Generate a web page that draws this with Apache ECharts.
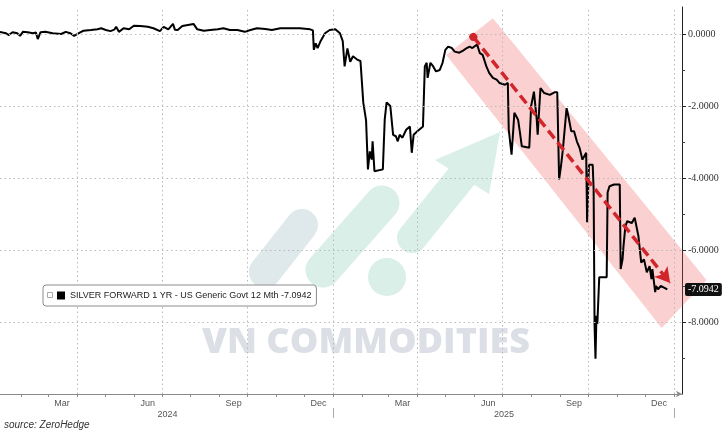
<!DOCTYPE html>
<html><head><meta charset="utf-8">
<script src="https://cdn.jsdelivr.net/npm/echarts@6/dist/echarts.min.js"></script>
<style>html,body{margin:0;padding:0;background:#fff}#c{width:728px;height:437px}</style>
</head><body><div id="c"></div>
<script>
const seriesName = 'SILVER FORWARD 1 YR - US Generic Govt 12 Mth -7.0942';
const lastValue = -7.0942;

const dates = [
'2024-01-09','2024-01-16','2024-01-19','2024-01-23','2024-01-28','2024-01-31','2024-02-03','2024-02-08','2024-02-14','2024-02-17',
'2024-02-19','2024-02-20','2024-02-22','2024-02-27','2024-03-06','2024-03-15','2024-03-20','2024-03-25','2024-03-29','2024-03-31',
'2024-04-05','2024-04-08','2024-04-16','2024-04-23','2024-04-27','2024-05-02','2024-05-07','2024-05-11','2024-05-13','2024-05-16',
'2024-05-21','2024-05-27','2024-06-01','2024-06-08','2024-06-16','2024-06-22','2024-06-29','2024-07-03','2024-07-08','2024-07-13',
'2024-07-15','2024-07-18','2024-07-23','2024-07-29','2024-08-04','2024-08-08','2024-08-15','2024-08-22','2024-08-30','2024-09-05',
'2024-09-12','2024-09-20','2024-09-28','2024-10-04','2024-10-11','2024-10-20','2024-10-27','2024-11-05','2024-11-15','2024-11-26',
'2024-12-07','2024-12-10','2024-12-11','2024-12-13','2024-12-15','2024-12-18','2024-12-20','2024-12-23','2024-12-28','2025-01-03',
'2025-01-08','2025-01-11','2025-01-13','2025-01-16','2025-01-19','2025-01-22','2025-01-24','2025-01-27','2025-01-30','2025-02-02',
'2025-02-05','2025-02-07','2025-02-09','2025-02-11','2025-02-12','2025-02-14','2025-02-23','2025-02-25','2025-02-27','2025-03-03',
'2025-03-06','2025-03-09','2025-03-11','2025-03-13','2025-03-16','2025-03-20','2025-03-24','2025-03-26','2025-03-28','2025-04-01',
'2025-04-07','2025-04-09','2025-04-11','2025-04-12','2025-04-15','2025-04-18','2025-04-21','2025-04-25','2025-04-28','2025-05-01',
'2025-05-04','2025-05-08','2025-05-11','2025-05-16','2025-05-20','2025-05-24','2025-05-27','2025-05-30','2025-06-04','2025-06-07',
'2025-06-10','2025-06-14','2025-06-17','2025-06-21','2025-06-25','2025-06-28','2025-07-04','2025-07-07','2025-07-08','2025-07-10',
'2025-07-11','2025-07-13','2025-07-14','2025-07-18','2025-07-20','2025-07-22','2025-07-30','2025-08-01','2025-08-04','2025-08-07',
'2025-08-08','2025-08-11','2025-08-15','2025-08-21','2025-08-26','2025-08-29','2025-08-31','2025-09-02','2025-09-04','2025-09-08',
'2025-09-10','2025-09-13','2025-09-16','2025-09-19','2025-09-22','2025-09-25','2025-09-27','2025-09-29','2025-09-30','2025-10-02',
'2025-10-06','2025-10-07','2025-10-08','2025-10-09','2025-10-10','2025-10-11','2025-10-13','2025-10-21','2025-10-22','2025-10-24',
'2025-10-29','2025-11-04','2025-11-05','2025-11-07','2025-11-08','2025-11-10','2025-11-12','2025-11-17','2025-11-20','2025-11-22',
'2025-11-24','2025-11-27','2025-11-30','2025-12-03','2025-12-06','2025-12-08','2025-12-09','2025-12-12','2025-12-13','2025-12-15',
'2025-12-18','2025-12-22','2025-12-25'
];
const values = [
0.06,0.02,-0.03,0.05,0.02,-0.05,0.06,0.05,0.02,0.04,
-0.14,-0.12,0.05,0.06,0.02,0.00,0.06,0.02,-0.05,0.00,
0.05,0.09,0.11,0.13,0.16,0.11,0.08,0.12,0.20,0.06,
0.16,0.13,0.23,0.22,0.20,0.16,0.08,0.20,0.13,0.28,
0.12,0.11,0.22,0.25,0.28,0.13,0.09,0.11,0.13,0.16,
0.11,0.11,0.06,0.11,0.16,0.14,0.11,0.16,0.16,0.16,
0.13,0.10,-0.44,-0.26,-0.39,-0.21,-0.26,0.02,0.11,0.13,
0.02,-0.20,-0.90,-0.40,-0.77,-0.62,-0.67,-0.72,-0.75,-1.90,
-2.40,-3.76,-3.26,-3.49,-2.98,-3.81,-3.76,-2.38,-1.90,-2.00,
-2.80,-2.84,-2.98,-2.80,-2.88,-2.66,-2.57,-3.30,-2.80,-2.70,
-2.57,-0.90,-0.80,-1.22,-0.80,-0.90,-1.04,-1.00,-0.80,-0.44,
-0.35,-0.39,-0.49,-0.52,-0.46,-0.39,-0.35,-0.39,-0.29,-0.53,
-0.58,-0.90,-1.08,-1.22,-1.27,-1.36,-1.41,-1.36,-2.66,-2.70,
-3.35,-2.60,-2.19,-2.38,-2.74,-3.12,-3.16,-2.00,-1.60,-2.38,
-2.80,-1.50,-1.64,-1.69,-1.62,-1.62,-4.04,-3.67,-3.21,-2.06,
-2.29,-2.70,-2.70,-2.98,-3.17,-3.49,-3.49,-3.30,-5.23,-3.63,
-3.63,-4.32,-8.10,-9.02,-7.83,-8.05,-6.76,-6.76,-4.40,-4.23,
-4.18,-4.18,-6.53,-6.26,-5.90,-5.35,-5.20,-5.25,-5.10,-5.06,
-5.61,-6.35,-6.26,-6.62,-6.45,-6.81,-6.53,-7.17,-7.00,-7.09,
-7.00,-7.05,-7.0942
];

const xMin = '2024-01-09';
const xMax = '2026-01-09';
const yTickValues = [0, -2, -4, -6, -8];
const yMinorTickValues = [-1, -3, -5, -7, -9];
const monthLabelDates = ['2024-03-16','2024-06-16','2024-09-16','2024-12-16','2025-03-16','2025-06-16','2025-09-16','2025-12-16'];
const monthNames = ['Jan','Feb','Mar','Apr','May','Jun','Jul','Aug','Sep','Oct','Nov','Dec'];
const quarterLines = ['2024-04-01','2024-07-01','2024-10-01','2025-01-01','2025-04-01','2025-07-01','2025-10-01','2026-01-01'];
const yearLabelDates = ['2024-07-07','2025-07-03'];
const yearBreaks = ['2025-01-01','2026-01-01'];
const trendStart = ['2025-05-31', -0.08];
const trendEnd = ['2025-12-28', -6.92];
const bandCorners = [['2025-05-02',-0.58],['2025-06-21',0.44],['2026-02-05',-6.83],['2025-12-19',-8.17]];

function toTs(s){ const p = s.split('-').map(Number); return new Date(p[0], p[1]-1, p[2]).getTime(); }

const minT = toTs(xMin) + 12*3600e3, maxT = toTs(xMax) + 18*3600e3;
const monthStarts = [];
for (let y = 2024; y <= 2026; y++) for (let m = 0; m < 12; m++) {
  const t = new Date(y, m, 1).getTime();
  if (t > minT && t < maxT) monthStarts.push(t);
}

const data = dates.map((d, i) => [toTs(d), values[i]]);
const gridColor = '#b9b9b9';

const chart = echarts.init(document.getElementById('c'), null, {renderer:'canvas'});
chart.setOption({
  animation: false,
  backgroundColor: '#fff',
  title: {text:'source: ZeroHedge', left:4, top:420, padding:0,
    textStyle:{fontSize:10, fontStyle:'italic', fontWeight:'normal', color:'#333', fontFamily:'Liberation Sans'}},
  grid: {left:0, right:46, top:7, bottom:43, containLabel:false},
  legend: {data:[seriesName], left:43, top:285, icon:'rect', itemWidth:8, itemHeight:8, itemGap:0,
    padding:[6,5,6,14], backgroundColor:'#fff', borderColor:'#8c8c8c', borderWidth:1, borderRadius:3,
    selectedMode:false, z:10,
    textStyle:{fontSize:9, color:'#222', fontFamily:'Liberation Sans'}},
  graphic: [
    {type:'group', silent:true, z:0, children:[
      {type:'line', shape:{x1:302,y1:225,x2:265,y2:272}, style:{stroke:'#dfe9ec', lineWidth:32, lineCap:'round'}},
      {type:'line', shape:{x1:382,y1:203,x2:323,y2:270}, style:{stroke:'#d9efe8', lineWidth:35, lineCap:'round'}},
      {type:'circle', shape:{cx:387, cy:277, r:19}, style:{fill:'#d9efe8'}},
      {type:'line', shape:{x1:412,y1:238,x2:470,y2:166}, style:{stroke:'#d9efe8', lineWidth:30, lineCap:'round'}},
      {type:'polygon', shape:{points:[[435,160],[500,132],[489,194]]}, style:{fill:'#d9efe8'}},
      {type:'text', x:366, y:343, style:{text:'VN COMMODITIES', align:'center', verticalAlign:'middle',
        fontSize:36, fontWeight:800, fontFamily:'Open Sans', fill:'#dcdfe6'}}
    ]},
    {type:'rect', left:47, top:292, z:20, silent:true, shape:{width:5, height:5}, style:{fill:'#fff', stroke:'#aaa', lineWidth:1}}
  ],
  xAxis: [
    {type:'value', min:minT, max:maxT, scale:true,
      axisLine:{show:true, onZero:false, lineStyle:{color:'#8a8a8a'}, symbol:['none','arrow'], symbolSize:[5,6]},
      axisTick:{show:true, customValues:monthStarts, length:3, lineStyle:{color:'#8a8a8a'}},
      axisLabel:{customValues:monthLabelDates.map(toTs), formatter:v => monthNames[new Date(v).getMonth()],
        color:'#555', fontSize:9, margin:5, fontFamily:'Liberation Sans'},
      splitLine:{show:false}},
    {type:'value', min:minT, max:maxT, scale:true, position:'bottom', offset:14,
      axisLine:{show:false, onZero:false},
      axisTick:{show:true, customValues:yearBreaks.map(toTs), length:10, lineStyle:{color:'#aaa'}},
      axisLabel:{customValues:yearLabelDates.map(toTs), formatter:v => String(new Date(v).getFullYear()),
        color:'#555', fontSize:9, margin:2, fontFamily:'Liberation Sans'},
      splitLine:{show:false}}
  ],
  yAxis: [
    {type:'value', position:'right', min:-10, max:0.75,
      axisLine:{show:true, onZero:false, lineStyle:{color:'#222'}},
      axisTick:{show:true, customValues:yTickValues, length:4, lineStyle:{color:'#222'}},
      axisLabel:{customValues:yTickValues, formatter:v => v.toFixed(4), color:'#333', fontSize:10, margin:6, fontFamily:'Liberation Serif'},
      splitLine:{show:false}},
    {type:'value', position:'right', min:-10, max:0.75, z:10,
      axisLine:{show:false, onZero:false},
      axisTick:{show:true, customValues:yMinorTickValues, length:3, lineStyle:{color:'#444'}},
      axisLabel:{customValues:[lastValue], formatter:v => v.toFixed(4), color:'#fff', backgroundColor:'#111',
        padding:[2,3,1,3], borderRadius:2, margin:3, fontSize:10, fontFamily:'Liberation Serif'},
      splitLine:{show:false}}
  ],
  series: [
    {type:'custom', name:'band', xAxisIndex:0, yAxisIndex:0, z:1, silent:true, clip:false,
      data:[[toTs(bandCorners[0][0]), bandCorners[0][1]]],
      renderItem:(params, api) => ({type:'polygon',
        shape:{points: bandCorners.map(c => api.coord([toTs(c[0]), c[1]]))},
        style:{fill:'rgba(240,80,80,0.27)'}}),
      markLine:{silent:true, symbol:'none', label:{show:false}, animation:false,
        lineStyle:{color:gridColor, type:[1.5,3], width:1},
        data: quarterLines.map(d => ({xAxis: toTs(d)})).concat(yTickValues.map(v => ({yAxis: v})))}
    },
    {type:'line', name:seriesName, xAxisIndex:0, yAxisIndex:0, z:3, data:data, showSymbol:false, symbol:'none',
      lineStyle:{color:'#000', width:2}, itemStyle:{color:'#000'}},
    {type:'line', name:'trend', xAxisIndex:0, yAxisIndex:0, z:4, silent:true,
      data:[[toTs(trendStart[0]), trendStart[1]], [toTs(trendEnd[0]), trendEnd[1]]],
      showSymbol:false, symbol:'none', lineStyle:{opacity:0},
      markLine:{silent:true, animation:false, label:{show:false},
        lineStyle:{color:'#d0262b', width:3.5, type:[10,5]},
        data:[[{coord:[toTs(trendStart[0]), trendStart[1]], symbol:'circle', symbolSize:8},
               {coord:[toTs(trendEnd[0]), trendEnd[1]], symbol:'arrow', symbolSize:[13,15]}]]}
    }
  ]
});
</script></body></html>
